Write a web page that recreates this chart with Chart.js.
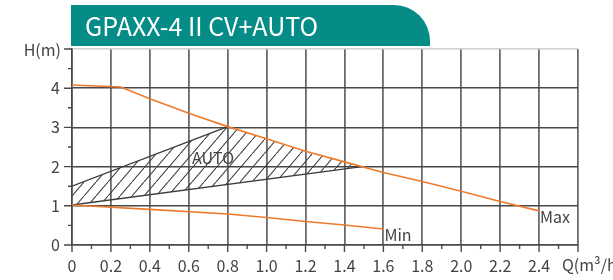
<!DOCTYPE html>
<html>
<head>
<meta charset="utf-8">
<script src="https://cdn.jsdelivr.net/npm/chart.js@4"></script>
<style>
  body { margin: 0; background: #fff; }
  #wrap { position: relative; width: 613px; height: 280px; }
  #banner {
    position: absolute; left: 71px; top: 5px; width: 359px; height: 41px;
    background: #058c86; border-top-right-radius: 36px;
    color: #fff; font: 25px "Noto Sans CJK SC", sans-serif; line-height: 41px;
    padding-left: 14px; box-sizing: border-box; white-space: nowrap;
  }
</style>
</head>
<body>
<div id="wrap">
  <canvas id="curve" width="613" height="280"></canvas>
  <div id="banner">GPAXX-4 II CV+AUTO</div>
</div>
<script>
// Pump curves (Q in m3/h, H in m)
const maxQ = [0, 0.25, 0.4, 0.6, 0.8, 1.0, 1.2, 1.4, 1.6, 1.8, 2.0, 2.2, 2.4];
const maxH = [4.08, 4.03, 3.73, 3.36, 3.02, 2.71, 2.39, 2.12, 1.85, 1.62, 1.37, 1.11, 0.87];
const minQ = [0, 0.4, 0.8, 1.0, 1.2, 1.4, 1.6];
const minH = [1.02, 0.91, 0.79, 0.70, 0.60, 0.51, 0.41];
const autoTopQ = [0, 0.8, 1.0, 1.2, 1.4, 1.49];
const autoTopH = [1.5, 3.02, 2.71, 2.39, 2.12, 2.0];
const autoLowQ = [0, 1.49];
const autoLowH = [1.02, 2.0];

// Axis labels
const xTickLabels = ['0', '0.2', '0.4', '0.6', '0.8', '1.0', '1.2', '1.4', '1.6', '1.8', '2.0', '2.2', '2.4'];
const yTickLabels = ['0', '1', '2', '3', '4'];
const xTitle = 'Q(m³/h)';
const yTitle = 'H(m)';

const orange = '#ee7a2c';
const gridDark = '#4a4a4a';
const textGray = '#444';
const font = '"Noto Sans CJK SC", sans-serif';

function pts(qs, hs) {
  return qs.map((q, i) => ({ x: q, y: hs[i] }));
}

// diagonal hatch for the AUTO zone
function hatch() {
  const w = 12, h = 14;
  const c = document.createElement('canvas');
  c.width = w; c.height = h;
  const g = c.getContext('2d');
  g.strokeStyle = '#3c3c3c';
  g.lineWidth = 1.1;
  g.beginPath();
  g.moveTo(-w, 2 * h); g.lineTo(2 * w, -h);
  g.stroke();
  return g.createPattern(c, 'repeat');
}

// tick marks, curve labels and axis titles
const extras = {
  id: 'extras',
  afterDraw(chart) {
    const { ctx, chartArea } = chart;
    const xs = chart.scales.x, ys = chart.scales.y;
    ctx.save();
    ctx.strokeStyle = gridDark;
    ctx.lineWidth = 1.4;
    ctx.beginPath();
    for (let i = 0; i <= 26; i++) {
      const px = xs.getPixelForValue(i / 10);
      ctx.moveTo(px, chartArea.bottom);
      ctx.lineTo(px, chartArea.bottom + (i % 2 === 0 ? 7 : 4));
    }
    for (let i = 0; i <= 10; i++) {
      const py = ys.getPixelForValue(i / 2);
      ctx.moveTo(chartArea.left, py);
      ctx.lineTo(chartArea.left - (i % 2 === 0 ? 8 : 4), py);
    }
    ctx.stroke();

    ctx.fillStyle = textGray;
    ctx.font = '16px ' + font;
    ctx.textBaseline = 'middle';
    ctx.textAlign = 'left';
    ctx.fillText('Max', xs.getPixelForValue(2.4) + 1, ys.getPixelForValue(0.87) + 6);
    ctx.fillText('Min', xs.getPixelForValue(1.6) + 1, ys.getPixelForValue(0.41) + 6);
    ctx.fillText('AUTO', 192, 158);
    ctx.fillText(xTitle, 562, 265);
    ctx.textAlign = 'right';
    ctx.fillText(yTitle, 61, ys.getPixelForValue(5) + 1);
    ctx.restore();
  }
};

new Chart(document.getElementById('curve'), {
  type: 'line',
  data: {
    datasets: [
      { data: pts(maxQ, maxH), borderColor: orange, borderWidth: 1.6, pointRadius: 0, fill: false },
      { data: pts(minQ, minH), borderColor: orange, borderWidth: 1.6, pointRadius: 0, fill: false },
      {
        data: pts(autoTopQ, autoTopH), borderColor: '#3c3c3c', borderWidth: 1.3, pointRadius: 0,
        backgroundColor: hatch(), fill: 3,
        segment: { borderColor: c => c.p0DataIndex === 0 ? '#3c3c3c' : 'rgba(0,0,0,0)' }
      },
      { data: pts(autoLowQ, autoLowH), borderColor: '#3c3c3c', borderWidth: 1.3, pointRadius: 0, fill: false }
    ]
  },
  options: {
    responsive: false,
    animation: false,
    layout: { padding: { top: 49, right: 35, left: 0, bottom: 0 } },
    plugins: { legend: { display: false }, tooltip: { enabled: false } },
    scales: {
      x: {
        type: 'linear', min: 0, max: 2.6,
        afterFit: s => { s.height = 35; },
        ticks: {
          stepSize: 0.1, autoSkip: false, maxRotation: 0, padding: 11,
          color: textGray, font: { family: font, size: 16 },
          callback: v => {
            const i = Math.round(v * 10);
            return i % 2 === 0 && i / 2 < xTickLabels.length ? xTickLabels[i / 2] : '';
          }
        },
        grid: {
          drawTicks: false, lineWidth: 1.8,
          color: c => Math.round(c.tick.value * 10) % 2 === 0 ? '#6a6a6a' : 'rgba(0,0,0,0)'
        },
        border: { color: gridDark, width: 1.5 }
      },
      y: {
        min: 0, max: 5,
        afterFit: s => { s.width = 72; },
        ticks: {
          stepSize: 0.5, autoSkip: false, padding: 12,
          color: textGray, font: { family: font, size: 16 },
          callback: v => Number.isInteger(v) && v < yTickLabels.length ? yTickLabels[v] : ''
        },
        grid: {
          drawTicks: false, lineWidth: 1.5,
          color: c => {
            const v = c.tick.value;
            if (v === 5) return '#d0d0d0';
            return Number.isInteger(v) ? '#474747' : 'rgba(0,0,0,0)';
          }
        },
        border: { color: gridDark, width: 1.5 }
      }
    }
  },
  plugins: [extras]
});
</script>
</body>
</html>
